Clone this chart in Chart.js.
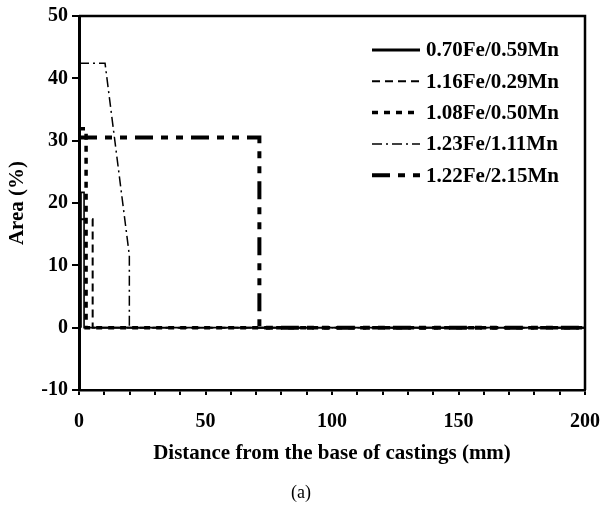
<!DOCTYPE html>
<html>
<head>
<meta charset="utf-8">
<script src="https://cdn.jsdelivr.net/npm/chart.js@4/dist/chart.umd.min.js"></script>
<style>
  html, body { margin: 0; padding: 0; background: #fff; }
  #wrap { width: 600px; height: 506px; }
</style>
</head>
<body>
<div id="wrap"><canvas id="myChart" width="600" height="506"></canvas></div>
<script>
// series names (legend)
const seriesNames = ['0.70Fe/0.59Mn', '1.16Fe/0.29Mn', '1.08Fe/0.50Mn', '1.23Fe/1.11Mn', '1.22Fe/2.15Mn'];

// distance (mm) / area (%)
const xA = [0.8, 0.8, 2, 2, 200];
const yA = [0, 21.7, 21.7, 0, 0];
const xB = [0, 5.4, 5.4, 200];
const yB = [17.4, 17.4, 0, 0];
const xC = [0, 2.8, 2.8, 200];
const yC = [31.9, 31.9, 0, 0];
const xD = [0, 10.3, 19.9, 19.9, 200];
const yD = [42.4, 42.4, 11.6, 0, 0];
const xE = [0, 71.3, 71.3, 200];
const yE = [30.5, 30.5, 0, 0];

const xTickLabels = [0, 50, 100, 150, 200];
const yTicks = [-10, 0, 10, 20, 30, 40, 50];

const serif = "'Liberation Serif', 'Times New Roman', serif";

// line looks, same order as seriesNames
const widths = [1.6, 2, 3.5, 1.5, 4];
const legendWidths = [3, 2, 3.5, 1.5, 4];
const dashes = [[], [8, 5], [6, 6], [10, 4, 2, 4], [18, 8, 7, 8, 7, 8]];

function pts(xs, ys) {
	return xs.map((x, i) => ({ x: x, y: ys[i] }));
}

const allData = [pts(xA, yA), pts(xB, yB), pts(xC, yC), pts(xD, yD), pts(xE, yE)];

const datasets = seriesNames.map((name, i) => ({
	label: name,
	data: allData[i],
	borderColor: '#000',
	borderWidth: widths[i],
	borderDash: dashes[i],
	borderCapStyle: 'butt',
	pointRadius: 0,
	fill: false,
	tension: 0
}));

// frame on top/right, legend inside plot and the caption under the chart
const extras = {
	id: 'extras',
	afterDraw(chart) {
		const ctx = chart.ctx;
		const a = chart.chartArea;
		ctx.save();
		ctx.strokeStyle = '#000';
		ctx.lineWidth = 2.5;
		ctx.beginPath();
		ctx.moveTo(a.left, a.top);
		ctx.lineTo(a.right, a.top);
		ctx.lineTo(a.right, a.bottom);
		ctx.stroke();

		// legend
		ctx.font = 'bold 21px ' + serif;
		ctx.textBaseline = 'middle';
		ctx.fillStyle = '#000';
		seriesNames.forEach((name, i) => {
			const y = 50 + i * 31.3;
			ctx.lineWidth = legendWidths[i];
			ctx.setLineDash(dashes[i]);
			ctx.lineCap = 'butt';
			ctx.beginPath();
			ctx.moveTo(372, y);
			ctx.lineTo(420, y);
			ctx.stroke();
			ctx.setLineDash([]);
			ctx.fillText(name, 426, y + 1);
		});

		ctx.font = '18px ' + serif;
		ctx.textAlign = 'center';
		ctx.fillText('(a)', 301, 493);
		ctx.restore();
	}
};

const ctx = document.getElementById('myChart');

const chart = new Chart(ctx, {
	type: 'line',
	data: { datasets: datasets },
	options: {
		responsive: false,
		animation: false,
		layout: { padding: { left: 0, right: 15, top: 15, bottom: 0 } },
		plugins: {
			legend: { display: false },
			tooltip: { enabled: false }
		},
		scales: {
			x: {
				type: 'linear',
				min: 0,
				max: 200,
				afterFit: (s) => {
					s.height = 116;
					s.paddingLeft = 0;
					s.paddingRight = 0;
				},
				afterBuildTicks: (s) => {
					const t = [];
					for (let v = 0; v <= 200; v += 10) t.push({ value: v });
					s.ticks = t;
				},
				ticks: {
					autoSkip: false,
					maxRotation: 0,
					color: '#000',
					padding: 15,
					font: { family: serif, size: 20, weight: 'bold' },
					callback: (v) => xTickLabels.includes(v) ? String(v) : ''
				},
				grid: {
					drawOnChartArea: false,
					drawTicks: true,
					tickLength: 5,
					color: '#000',
					lineWidth: 2
				},
				border: { display: true, color: '#000', width: 2.5 },
				title: {
					display: true,
					text: 'Distance from the base of castings (mm)',
					color: '#000',
					font: { family: serif, size: 21, weight: 'bold' },
					padding: { top: 40, bottom: 40 }
				}
			},
			y: {
				min: -10,
				max: 50,
				afterFit: (s) => { s.width = 79; },
				afterBuildTicks: (s) => { s.ticks = yTicks.map(v => ({ value: v })); },
				ticks: {
					color: '#000',
					padding: 4,
					font: { family: serif, size: 20, weight: 'bold' }
				},
				grid: {
					drawOnChartArea: false,
					drawTicks: true,
					tickLength: 7,
					color: '#000',
					lineWidth: 2
				},
				border: { display: true, color: '#000', width: 3 },
				title: {
					display: true,
					text: 'Area (%)',
					color: '#000',
					font: { family: serif, size: 21, weight: 'bold' },
					padding: { top: 5, bottom: 0 }
				}
			}
		}
	},
	plugins: [extras]
});
</script>
</body>
</html>
